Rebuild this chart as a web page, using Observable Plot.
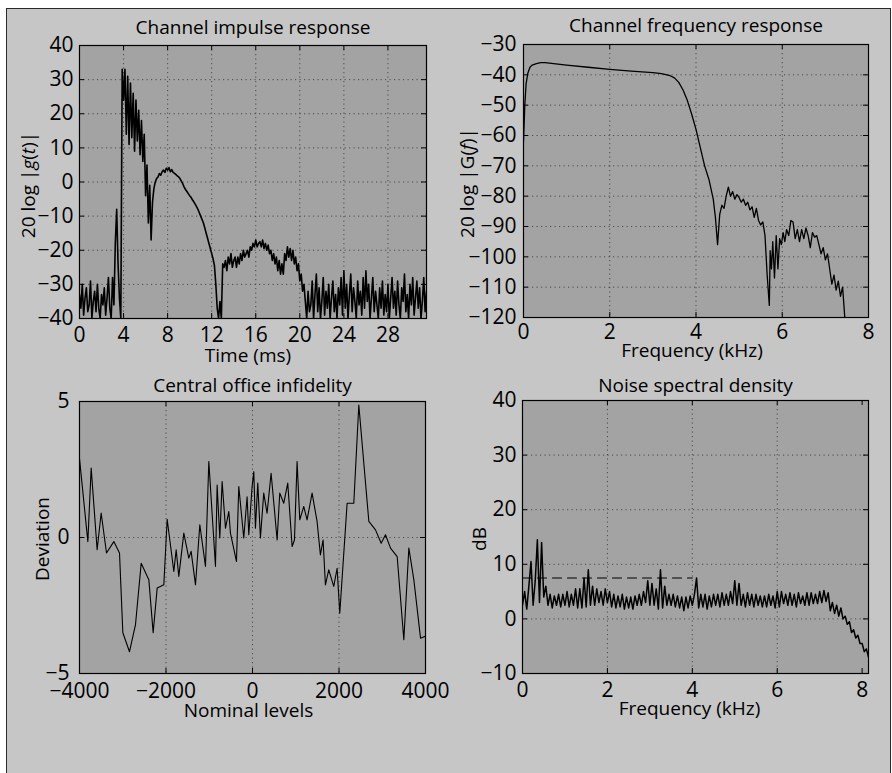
<!DOCTYPE html>
<html><head><meta charset="utf-8">
<script src="https://cdn.jsdelivr.net/npm/d3@7"></script>
<script src="https://cdn.jsdelivr.net/npm/@observablehq/plot@0.6"></script>
<style>
html,body{margin:0;padding:0;background:#fff;width:892px;height:773px;overflow:hidden;font-family:"Open Sans",sans-serif}
#sheet{position:absolute;left:6px;top:8px;width:883px;height:800px;border:1px solid #2a2a2a;background:#c6c6c6}
.panel{position:absolute}
.panel svg{overflow:visible;display:block}
</style></head><body>
<div id="sheet"></div>
<div id="p1" class="panel" style="left:0px;top:0px"></div>
<div id="p2" class="panel" style="left:446px;top:0px"></div>
<div id="p3" class="panel" style="left:0px;top:370px"></div>
<div id="p4" class="panel" style="left:446px;top:370px"></div>
<script>
// ---------- data ----------
// Panel 1: channel impulse response, sampled every 0.125 ms from 0 ms
const impulseStartMs = 0;
const impulseStepMs = 0.125;
const impulseDb = [
-33,-37,-30,-39,-34,-31,-38,-36,-29,-40,-35,-32,-38,-30,-37,-40,-33,-36,-31,-39,-34,-28,-37,-40,
-28,-36,-18,-8,-24,-34,-40,33,
24,33,14,31,11,29,13,26,9,24,12,21,8,18,6,14,-4,5,-12,-1,-17,-6,-2,0,
1,1.5,2.5,2,3,3.5,2.8,4,3.5,4.2,3,3.6,
2.8,2.5,2.2,1.8,1.5,1,0.2,-0.5,-1.5,-2.2,-2.8,-3.4,-4,-4.5,-5.2,-5.8,-6.5,-7.2,-8,-9,
-10,-11,-12,-13.5,-15,-16.5,-18,-19.5,-21,-22.5,-24.5,-30,-37,-40,-35,-40,
-24,
-25,-23,-26,-22,-24,-21,-25,-23,
-22,-25,-22,-24,-21,-23,-20,-22,
-21,-20,-22,-19,-20,-18,-19,-17,
-19,-18,-17.5,-19,-17,-19.5,-18,-20,
-18.5,-21,-20,-23,-21,-24,-22,-26,
-23,-27,-24,-27,-21,-23,-19,-22,
-19.5,-23,-20,-24,-22,-26,-24,-29,
-27,-32,-30,-35,-40,-32,-38,
-36,-29,-40,-33,-27,-38,-31,-40,-35,-28,-39,-32,-37,-30,-40,-34,-29,-38,-33,-40,-31,-36,-28,-39,
-26,-37,-30,-40,-33,-27,-38,-31,-35,-40,-29,-36,-32,-39,-28,-37,
-26,-35,-30,-40,-34,-28,-38,-32,-36,-40,-31,-37,-29,-39,-33,-38,
-30,-40,-34,-28,-37,-32,-39,-29,-36,-40,-31,-35,-27,-38,-33,-40,
-30,-36,-28,-39,-34,-29,-37,-31,-40,-35,-28,-38,-32
];

// Panel 2: channel frequency response
const respFreqKHz = [0,0.03,0.06,0.1,0.15,0.2,0.3,0.4,0.5,0.7,1.0,1.5,2.0,2.5,3.0,3.2,3.4,3.5,3.6,3.7,3.8,3.9,4.0,4.1,4.2,4.3,4.4,4.45,4.5,
4.55,4.6,4.65,4.7,4.75,4.8,4.85,4.9,4.95,5.0,5.05,5.1,5.15,5.2,5.25,5.3,5.35,5.4,5.45,5.5,5.55,5.6,5.65,5.7,5.72,5.75,5.78,5.82,5.86,5.9,
5.94,5.98,6.02,6.06,6.1,6.15,6.2,6.25,6.3,6.35,6.4,6.45,6.5,6.55,6.6,6.65,6.7,6.75,6.8,6.85,6.9,6.95,7.0,7.05,7.1,7.15,7.2,7.25,7.3,7.35,7.4,7.45];
const respDb = [-62,-50,-43,-39.5,-37.5,-36.8,-36.3,-36,-36,-36.3,-36.8,-37.5,-38.2,-38.8,-39.3,-39.6,-40.3,-41,-42.5,-45,-48.5,-53,-58,-64,-70,-74.5,-81,-87,-96,
-86,-83,-84,-80,-77,-80,-78.5,-81,-79.5,-80.5,-82,-81,-83,-82,-84.5,-83.5,-87,-84,-88,-89.5,-88.5,-93,-106,-116,-98,-104,-95,-107,-93,-104,
-94,-96,-92,-95,-91,-93,-88,-88.5,-94,-91,-95,-91,-94,-90.5,-93,-97,-92,-93.5,-93,-96,-99,-97,-101,-99,-104,-109,-106,-111,-108,-113,-110,-120];

// Panel 3: central office infidelity
const nominalLevels = [-4000,-3807,-3730,-3592,-3499,-3376,-3206,-3075,-2998,-2844,
-2705,-2574,-2397,-2297,-2204,-2050,-1973,-1819,-1765,-1704,
-1588,-1473,-1419,-1318,-1218,-1087,-1010,-856,-818,-756,
-702,-625,-548,-510,-371,-317,-202,-125,-86,-9,
30,68,122,183,260,337,430,507,569,630,
723,815,916,970,1031,1093,1185,1262,1378,1493,
1570,1632,1686,1763,1879,1956,2018,2188,2342,2458,
2690,2844,2975,3075,3191,3345,3499,3615,3730,3885,4000];
const deviation = [2.9,-0.15,2.55,-0.45,0.9,-0.57,-0.15,-0.57,-3.5,-4.2,
-3.2,-0.95,-1.55,-3.5,-1.86,-1.74,0.67,-1.25,-0.45,-1.43,
0.16,-0.76,-0.51,-1.74,0.47,-1.06,2.79,-1.06,1.93,-0.02,
2.06,0.34,0.95,0.16,-0.88,1.87,-0.02,1.5,0.1,1.87,
2.42,0.34,2.0,-0.02,1.63,0.89,2.36,1.02,-0.09,1.63,
1.26,2.0,-0.33,-0.09,2.79,0.65,1.14,0.65,1.63,0.59,
-0.64,-0.09,-1.74,-1.19,-1.8,-1.13,-2.78,1.26,1.26,4.87,
0.59,0.28,-0.21,0.1,-0.39,-0.7,-3.76,-0.39,-1.55,-3.7,-3.63];

// Panel 4: noise spectral density, every 0.05 kHz from 0
const noiseStartKHz = 0;
const noiseStepKHz = 0.05;
const noiseDb = [
2.5,5,1.8,6,10.5,2.5,7,14.5,3,14,4,6,2.5,4.5,2,4.2,2.5,4.5,2.2,4.5,
2.5,5,2.2,4.5,2.5,5.5,2,5.5,2,7.5,2.2,9,2.5,6,2.5,5.5,3,5,2.5,5.5,
3,5,2.2,4.5,2,4.2,2.2,4.5,1.8,4,2,4,1.8,4.2,2.5,4.5,2.5,5,3,7,
2.5,6.5,2.5,5.5,1.8,9,2,6,2.5,4.5,2.5,4.5,2.2,4.2,2,4,1.5,4,2,4.2,
2.5,4.5,7.5,2,4.5,2.2,4.5,1.8,4.2,2.2,4.5,2.5,4.5,2.2,4.8,2.5,4.5,2.5,5,2.8,
7,2.5,6.5,2.5,4.5,2.2,4.8,2.5,4.5,2.2,4.5,2.5,4.2,2.2,4.2,2.2,4.5,2.5,4.2,2,
5,2.2,5,2.8,4.5,2.5,4.8,2.5,4.5,2.2,4.8,2.8,4.2,2.5,4.8,2.5,4.8,2.8,4.5,2.8,
5,3,5.2,3.2,4.8,1.5,3,1,2.5,0.5,2,0,0.5,-1,-0.5,-2.5,-2,-3.5,-3,-4.5,
-4.5,-6,-5.5,-7
];
const dashedFreqKHz = [0, 4.0];
const dashedDb = [7.5, 7.5];

// tick values
const ticks1x = [0,4,8,12,16,20,24,28];
const ticks1y = [-40,-30,-20,-10,0,10,20,30,40];
const ticks2x = [0,2,4,6,8];
const ticks2y = [-120,-110,-100,-90,-80,-70,-60,-50,-40,-30];
const ticks3x = [-4000,-2000,0,2000,4000];
const ticks3y = [-5,0,5];
const ticks4x = [0,2,4,6,8];
const ticks4y = [-10,0,10,20,30,40];

// ---------- drawing ----------
const FONT = '"Open Sans", sans-serif';
const PLOT_BG = "#a3a3a3";
const TICK_FS = 21;
const TEXT_FS = 19;
const fmt = d => (d < 0 ? "\u2212" : "") + Math.abs(d);

function makePanel(c) {
  const fw = c.width - c.ml - c.mr, fh = c.height - c.mt - c.mb;
  const T = 5;
  const gridStyle = {stroke: "#111", strokeOpacity: 0.6, strokeDasharray: "1.2,3.3", strokeWidth: 1};
  const chart = Plot.plot({
    width: c.width, height: c.height,
    marginTop: c.mt, marginBottom: c.mb, marginLeft: c.ml, marginRight: c.mr,
    x: {domain: c.xDomain},
    y: {domain: c.yDomain},
    style: {background: "transparent", fontFamily: FONT, fontSize: TICK_FS + "px", color: "black", overflow: "visible"},
    marks: [
      Plot.frame({fill: PLOT_BG}),
      Plot.gridX(c.gridX || c.xTicks, gridStyle),
      Plot.gridY(c.yTicks, gridStyle),
      ...c.marks,
      Plot.ruleX(c.xTicks, {insetTop: fh - T, stroke: "black"}),
      Plot.ruleX(c.xTicks, {insetBottom: fh - T, stroke: "black"}),
      Plot.ruleY(c.yTicks, {insetRight: fw - T, stroke: "black"}),
      Plot.ruleY(c.yTicks, {insetLeft: fw - T, stroke: "black"}),
      Plot.frame({stroke: "black", strokeWidth: 1.2}),
      Plot.axisX(c.xTicks, {tickSize: 0, tickPadding: c.xPad, fontSize: TICK_FS, label: null, tickFormat: fmt}),
      Plot.axisY(c.yTicks, {tickSize: 0, tickPadding: c.yPad, fontSize: TICK_FS, label: null, tickFormat: fmt}),
      Plot.text([c.title], {frameAnchor: "top", lineAnchor: "middle", dy: c.titleDy, fontSize: TEXT_FS, fill: "black"}),
      Plot.text([c.xLabel], {frameAnchor: "bottom", lineAnchor: "middle", dy: c.xLabelDy, dx: c.xLabelDx || 0, fontSize: TEXT_FS, fill: "black"})
    ]
  });
  const svg = d3.select(chart);
  svg.selectAll('g[aria-label$="tick label"]').attr("font-size", TICK_FS).style("font-size", TICK_FS + "px");
  // y-axis label with italic parts
  const t = svg.append("text")
    .attr("transform", `translate(${c.yLabelX},${c.yLabelY}) rotate(-90)`)
    .attr("text-anchor", "middle")
    .attr("dominant-baseline", "central")
    .attr("font-family", FONT)
    .attr("font-size", TEXT_FS)
    .attr("fill", "black");
  for (const [s, it] of c.yLabelParts) {
    const ts = t.append("tspan").text(s);
    if (it) ts.attr("font-style", "italic");
  }
  document.getElementById(c.el).append(chart);
}

makePanel({
  el: "p1", width: 446, height: 375, mt: 45, mb: 57, ml: 79, mr: 20,
  xDomain: [0, 31.5], yDomain: [-40, 40], xTicks: ticks1x, yTicks: ticks1y,
  xPad: 9, yPad: 6,
  title: "Channel impulse response", titleDy: -18,
  xLabel: "Time (ms)", xLabelDy: 37, xLabelDx: -5,
  yLabelX: 28, yLabelY: 185,
  yLabelParts: [["20 log |", false], ["g", true], ["(", false], ["t", true], [")|", false]],
  marks: [
    Plot.lineY(impulseDb, {x: (d, i) => impulseStartMs + i * impulseStepMs, y: d => d, stroke: "black", strokeWidth: 1.6, clip: true})
  ]
});

makePanel({
  el: "p2", width: 446, height: 375, mt: 44, mb: 58, ml: 77, mr: 24,
  xDomain: [0, 8], yDomain: [-120, -30], xTicks: ticks2x, yTicks: ticks2y,
  xPad: 7, yPad: 7,
  title: "Channel frequency response", titleDy: -19,
  xLabel: "Frequency (kHz)", xLabelDy: 33, xLabelDx: -4,
  yLabelX: 21, yLabelY: 183,
  yLabelParts: [["20 log |G(", false], ["f", true], [")|", false]],
  marks: [
    Plot.line(d3.range(respFreqKHz.length), {x: i => respFreqKHz[i], y: i => respDb[i], stroke: "black", strokeWidth: 1.3, clip: true})
  ]
});

makePanel({
  el: "p3", width: 446, height: 403, mt: 31, mb: 100, ml: 79, mr: 21,
  xDomain: [-4000, 4000], yDomain: [-5, 5], xTicks: ticks3x, yTicks: ticks3y,
  xPad: 10, yPad: 10,
  title: "Central office infidelity", titleDy: -16,
  xLabel: "Nominal levels", xLabelDy: 37, xLabelDx: -4,
  yLabelX: 42, yLabelY: 169,
  yLabelParts: [["Deviation", false]],
  marks: [
    Plot.line(d3.range(nominalLevels.length), {x: i => nominalLevels[i], y: i => deviation[i], stroke: "black", strokeWidth: 1.1, clip: true})
  ]
});

makePanel({
  el: "p4", width: 446, height: 403, mt: 30, mb: 100, ml: 76, mr: 24,
  xDomain: [0, 8.15], yDomain: [-10, 40], xTicks: ticks4x, yTicks: ticks4y, gridX: [2, 4, 6],
  xPad: 9, yPad: 6,
  title: "Noise spectral density", titleDy: -15,
  xLabel: "Frequency (kHz)", xLabelDy: 35, xLabelDx: -6,
  yLabelX: 33, yLabelY: 169,
  yLabelParts: [["dB", false]],
  marks: [
    Plot.line(d3.range(dashedFreqKHz.length), {x: i => dashedFreqKHz[i], y: i => dashedDb[i], stroke: "black", strokeWidth: 1.1, strokeDasharray: "9,6"}),
    Plot.lineY(noiseDb, {x: (d, i) => noiseStartKHz + i * noiseStepKHz, y: d => d, stroke: "black", strokeWidth: 1.5, clip: true})
  ]
});
</script>
</body></html>
